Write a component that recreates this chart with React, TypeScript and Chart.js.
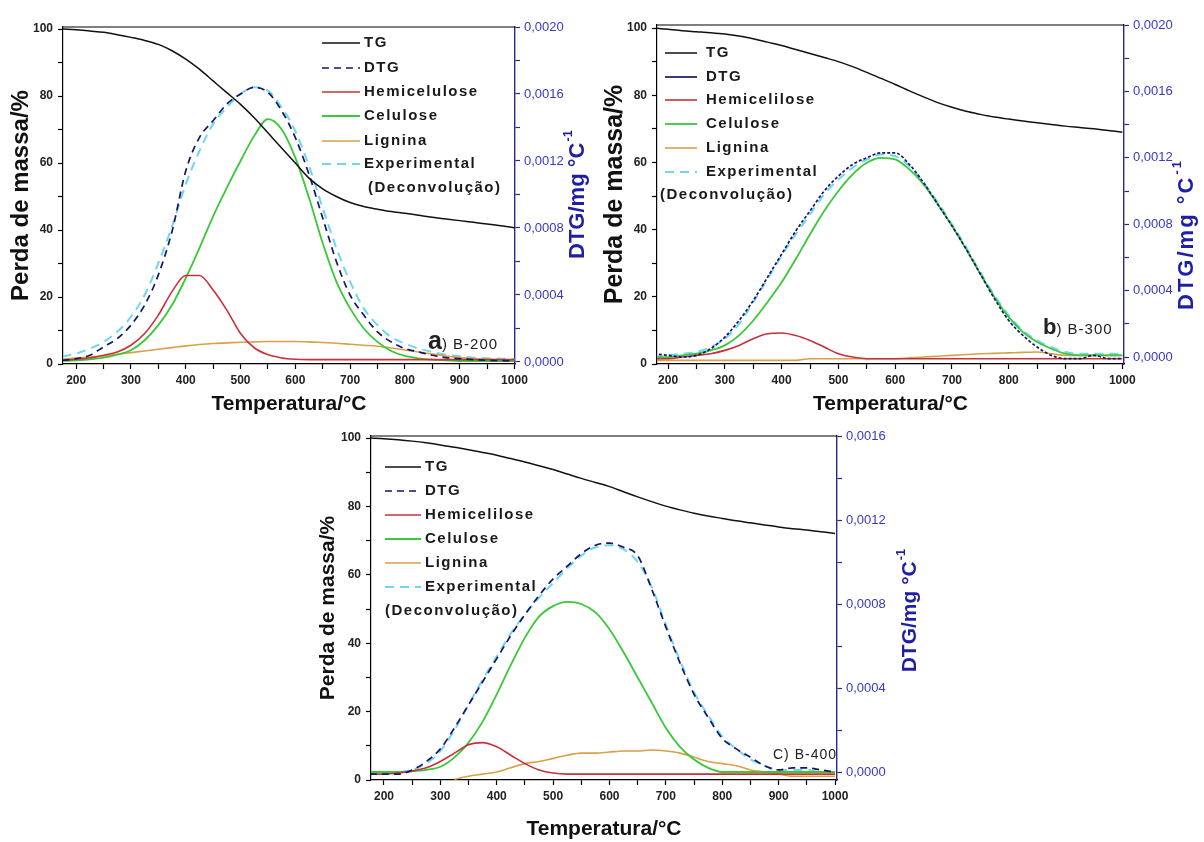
import React, { useEffect, useRef } from 'react';
import { Chart, registerables } from 'chart.js';

Chart.register(...registerables);

const FONT = '"Liberation Sans", Arial, Helvetica, sans-serif';

// ---------- shared axes ----------
const temperature = [175, 200, 225, 250, 275, 300, 325, 350, 375, 400, 425, 450, 475, 500, 525, 550, 575, 600, 625, 650, 675, 700, 725, 750, 775, 800, 825, 850, 875, 900, 925, 950, 975, 1000];
const xTickValues = [200, 250, 300, 350, 400, 450, 500, 550, 600, 650, 700, 750, 800, 850, 900, 950, 1000];
const xTickLabels = [200, 300, 400, 500, 600, 700, 800, 900, 1000];
const massTickValues = [0, 10, 20, 30, 40, 50, 60, 70, 80, 90, 100];
const massTickLabels = [0, 20, 40, 60, 80, 100];
const dtgTickValues20 = [0, 0.0002, 0.0004, 0.0006, 0.0008, 0.001, 0.0012, 0.0014, 0.0016, 0.0018, 0.002];
const dtgTickValues16 = [0, 0.0002, 0.0004, 0.0006, 0.0008, 0.001, 0.0012, 0.0014, 0.0016];
const dtgTickLabels = [0, 0.0004, 0.0008, 0.0012, 0.0016, 0.002];

// ---------- a) B-200 ----------
const tgB200 = [100, 99.8, 99.4, 99, 98.3, 97.5, 96.6, 95.4, 93.5, 91, 88, 84.5, 81, 77.5, 73.5, 69, 64.5, 60, 55.5, 52.3, 50, 48.2, 47, 46.2, 45.5, 45, 44.4, 43.8, 43.3, 42.8, 42.3, 41.8, 41.3, 40.7];
const dtgB200 = [0.00001, 0.00002, 0.00004, 0.00009, 0.00014, 0.00022, 0.00034, 0.00052, 0.00078, 0.00114, 0.00134, 0.00144, 0.00154, 0.0016, 0.00164, 0.00161, 0.0015, 0.00134, 0.00112, 0.00086, 0.0006, 0.0004, 0.00028, 0.00018, 0.00012, 0.00008, 0.00006, 0.00004, 0.000026, 0.00002, 0.000014, 0.00001, 0.000008, 0.000006];
const hemiB200 = [0.00001, 0.000016, 0.000024, 0.00004, 0.00006, 0.0001, 0.00017, 0.00028, 0.00042, 0.000516, 0.000516, 0.00043, 0.00031, 0.00017, 0.000085, 0.000044, 0.000024, 0.000016, 0.000014, 0.000014, 0.000014, 0.000014, 0.000014, 0.000014, 0.000014, 0.000014, 0.000014, 0.000014, 0.000014, 0.000014, 0.000014, 0.000014, 0.000014, 0.000014];
const celB200 = [0.000006, 0.00001, 0.000016, 0.000026, 0.000044, 0.00007, 0.00013, 0.00022, 0.00034, 0.0005, 0.00068, 0.00087, 0.00104, 0.0012, 0.00135, 0.00145, 0.00139, 0.00122, 0.00098, 0.00071, 0.00048, 0.00032, 0.0002, 0.00012, 0.000066, 0.000036, 0.000022, 0.000014, 0.00001, 0.000006, 0.000006, 0.000006, 0.000006, 0.000006];
const ligB200 = [0.000016, 0.000024, 0.00003, 0.000036, 0.000046, 0.000056, 0.000066, 0.000076, 0.000086, 0.000096, 0.000104, 0.00011, 0.000114, 0.000118, 0.00012, 0.000122, 0.000122, 0.000122, 0.00012, 0.000116, 0.000112, 0.000106, 0.0001, 0.000094, 0.000084, 0.000072, 0.00006, 0.000048, 0.000036, 0.000026, 0.00002, 0.000016, 0.000014, 0.000012];
const expB200 = [0.000032, 0.00005, 0.00008, 0.00012, 0.00018, 0.00027, 0.0004, 0.00059, 0.00081, 0.00106, 0.00126, 0.00142, 0.00152, 0.0016, 0.00164, 0.00162, 0.00152, 0.00138, 0.00117, 0.00092, 0.00068, 0.00048, 0.00032, 0.00022, 0.00015, 0.00011, 0.00008, 0.00006, 0.000044, 0.000034, 0.000026, 0.000022, 0.00002, 0.000018];

// ---------- b) B-300 ----------
const tgB300 = [100, 99.6, 99.2, 98.9, 98.6, 98.2, 97.6, 96.8, 95.8, 94.8, 93.6, 92.4, 91.2, 90, 88.5, 86.8, 85, 83.2, 81.3, 79.5, 77.8, 76.4, 75.2, 74.3, 73.5, 72.9, 72.3, 71.8, 71.3, 70.8, 70.4, 70, 69.5, 69];
const dtgB300 = [0.00002, 0.00001, 0, 0.00001, 0.00005, 0.00012, 0.00022, 0.00034, 0.00048, 0.00062, 0.00076, 0.00088, 0.001, 0.00109, 0.00116, 0.0012, 0.00123, 0.00123, 0.00116, 0.00105, 0.00092, 0.00079, 0.00065, 0.0005, 0.00035, 0.00022, 0.00013, 0.00006, 0.00001, -0.00001, -0.00001, 0.00001, -0.00001, -0.00001];
const hemiB300 = [-0.00001, -0.00001, 0, 0.00001, 0.00002, 0.00004, 0.00007, 0.00011, 0.00014, 0.000145, 0.00013, 0.0001, 0.00006, 0.00002, 0, -0.00001, -0.00001, -0.00001, -0.00001, -0.00001, -0.00001, -0.00001, -0.00001, -0.00001, -0.00001, -0.00001, -0.00001, -0.00001, -0.00001, -0.00001, -0.00001, -0.00001, -0.00001, -0.00001];
const celB300 = [0, 0, 0.00001, 0.00002, 0.00004, 0.00007, 0.00013, 0.00022, 0.00033, 0.00045, 0.00059, 0.00074, 0.00088, 0.001, 0.0011, 0.00117, 0.0012, 0.00119, 0.00113, 0.00104, 0.00092, 0.00079, 0.00065, 0.0005, 0.00036, 0.00024, 0.00015, 0.00009, 0.00005, 0.00002, 0.00001, 0.00001, 0.00001, 0.00001];
const ligB300 = [-0.00002, -0.00002, -0.00002, -0.00002, -0.00002, -0.00002, -0.00002, -0.00002, -0.00002, -0.00002, -0.00002, -0.00001, -0.00001, -0.00001, -0.00001, -0.00001, -0.00001, -0.00001, -0.000005, 0, 0.000005, 0.00001, 0.000015, 0.00002, 0.000022, 0.000025, 0.000028, 0.00003, 0.00002, 0.00001, 0.00001, 0.00001, 0.00001, 0.00001];
const expB300 = [0, 0.00001, 0.00002, 0.00003, 0.00006, 0.00011, 0.0002, 0.00033, 0.00047, 0.00061, 0.00074, 0.00086, 0.00098, 0.00107, 0.00114, 0.00119, 0.00122, 0.00121, 0.00115, 0.00105, 0.00093, 0.0008, 0.00066, 0.00051, 0.00037, 0.00025, 0.00016, 0.0001, 0.00006, 0.00003, 0.00002, 0.00002, 0.00002, 0.00002];

// ---------- C) B-400 ----------
const tgB400 = [100, 99.8, 99.5, 99.1, 98.6, 98, 97.3, 96.6, 95.8, 95, 94, 93, 91.9, 90.8, 89.5, 88.2, 87, 85.8, 84.3, 82.8, 81.4, 80.1, 79, 78, 77.2, 76.5, 75.8, 75.2, 74.6, 74, 73.5, 73.1, 72.6, 72.1];
const dtgB400 = [-0.00001, -0.00001, -0.00001, 0.00001, 0.00005, 0.00011, 0.00021, 0.00032, 0.00043, 0.00054, 0.00065, 0.00075, 0.00084, 0.00092, 0.00098, 0.00104, 0.00108, 0.00109, 0.00107, 0.00103, 0.00087, 0.00069, 0.00052, 0.00037, 0.00026, 0.00016, 0.00011, 0.00007, 0.00003, 0.00001, 0.00002, 0.00002, 0.00001, 0];
const hemiB400 = [-0.00001, -0.00001, -0.000005, 0.000005, 0.00002, 0.00005, 0.00009, 0.00013, 0.00014, 0.00012, 0.00008, 0.00004, 0.00001, -0.000005, -0.00001, -0.00001, -0.00001, -0.00001, -0.00001, -0.00001, -0.00001, -0.00001, -0.00001, -0.00001, -0.00001, -0.00001, -0.00001, -0.00001, -0.00001, -0.00001, -0.00001, -0.00001, -0.00001, -0.00001];
const celB400 = [0, 0, 0, 0.000003, 0.00001, 0.000025, 0.00007, 0.00014, 0.00024, 0.00037, 0.00051, 0.00064, 0.00074, 0.00079, 0.00081, 0.0008, 0.00076, 0.00068, 0.00057, 0.00045, 0.00033, 0.00021, 0.00012, 0.00006, 0.00002, 0, 0, 0, 0, 0, 0, 0, 0, 0];
const ligB400 = [null, null, null, null, null, null, -0.000035, -0.00002, -0.00001, 0, 0.00002, 0.00004, 0.00005, 0.000065, 0.00008, 0.00009, 0.00009, 0.000095, 0.0001, 0.0001, 0.000105, 0.0001, 0.00009, 0.00007, 0.00005, 0.00004, 0.00003, 0.00001, 0, -0.00001, -0.00002, -0.00002, -0.00002, -0.00002];
const expB400 = [0, 0, 0, 0.00001, 0.00004, 0.0001, 0.0002, 0.00032, 0.00044, 0.00055, 0.00066, 0.00075, 0.00083, 0.0009, 0.00097, 0.00103, 0.00107, 0.00108, 0.00106, 0.001, 0.00088, 0.0007, 0.00053, 0.00038, 0.00027, 0.00017, 0.00011, 0.00006, 0.00003, 0.00001, 0.00001, 0.00001, 0, 0];

const COLORS = {
  tg: '#111111',
  dtg: '#16166a',
  hemi: '#c8303a',
  cel: '#38c838',
  lig: '#d8a048',
  exp: '#6fd6ee',
  dtgAxis: '#2a2a7e',
  dtgLabel: '#3838c4',
  dtgTitle: '#1e1ea6',
};

type PanelCfg = {
  tg: number[]; dtg: number[]; hemi: number[]; cel: number[]; lig: (number | null)[]; exp: number[];
  hemiLabel: string;
  dtgDash: number[]; dtgLegendDash: number[];
  xMin: number; xMax: number; yMax: number; rMin: number; rMax: number; rTicks: number[];
  rightW: number; bottomH: number; topPad: number;
  leftTitleSize: number; leftTitlePad: number; xTitlePad: number;
  legend: { s0: number; s1: number; tx: number; rows: number[]; decX: number; decY: number };
  note: { x: number; y: number; big: string; bigSize: number; rest: string; restSize: number };
  rTitle: { x: number; y: number; size: number; spacing: number };
};

function fmtDtg(v: number) {
  return v.toFixed(4).replace('.', ',');
}

function buildConfig(c: PanelCfg): any {
  const mk = (label: string, data: (number | null)[], color: string, width: number, dash: number[], axis: string) => ({
    label,
    data: temperature.map((t, i) => ({ x: t, y: data[i] })),
    borderColor: color,
    backgroundColor: color,
    borderWidth: width,
    borderDash: dash,
    pointRadius: 0,
    cubicInterpolationMode: 'monotone',
    fill: false,
    spanGaps: false,
    yAxisID: axis,
  });
  const datasets = [
    mk('TG', c.tg, COLORS.tg, 1.5, [], 'y'),
    mk('DTG', c.dtg, COLORS.dtg, 1.7, c.dtgDash, 'y1'),
    mk(c.hemiLabel, c.hemi, COLORS.hemi, 1.6, [], 'y1'),
    mk('Celulose', c.cel, COLORS.cel, 1.8, [], 'y1'),
    mk('Lignina', c.lig, COLORS.lig, 1.6, [], 'y1'),
    mk('Experimental (Deconvolução)', c.exp, COLORS.exp, 2, [9, 6], 'y1'),
  ];
  const legendDashes = [[], c.dtgLegendDash, [], [], [], [9, 6]];

  const decor = {
    id: 'decor',
    afterDraw(chart: any) {
      const { ctx, chartArea: a } = chart;
      ctx.save();
      // top frame
      ctx.strokeStyle = '#000';
      ctx.lineWidth = 1.2;
      ctx.setLineDash([]);
      ctx.beginPath();
      ctx.moveTo(a.left, a.top);
      ctx.lineTo(a.right, a.top);
      ctx.stroke();

      // legend
      const L = c.legend;
      chart.data.datasets.forEach((ds: any, i: number) => {
        const y = L.rows[i];
        ctx.strokeStyle = ds.borderColor;
        ctx.lineWidth = ds.borderWidth;
        ctx.setLineDash(legendDashes[i]);
        ctx.beginPath();
        ctx.moveTo(L.s0, y);
        ctx.lineTo(L.s1, y);
        ctx.stroke();
        ctx.setLineDash([]);
        ctx.font = `bold 15px ${FONT}`;
        (ctx as any).letterSpacing = '1.5px';
        ctx.fillStyle = '#1a1a1a';
        ctx.textBaseline = 'middle';
        ctx.textAlign = 'left';
        const parts = String(ds.label).split(' (');
        ctx.fillText(parts[0], L.tx, y);
        if (parts.length > 1) ctx.fillText('(' + parts[1], L.decX, L.decY);
      });

      // panel note
      const N = c.note;
      ctx.fillStyle = '#222';
      ctx.textBaseline = 'alphabetic';
      let nx = N.x;
      if (N.big) {
        ctx.font = `bold ${N.bigSize}px ${FONT}`;
        (ctx as any).letterSpacing = '0px';
        ctx.fillText(N.big, nx, N.y);
        nx += ctx.measureText(N.big).width;
      }
      ctx.font = `${N.restSize}px ${FONT}`;
      (ctx as any).letterSpacing = '1px';
      ctx.fillText(N.rest, nx, N.y);

      // right axis title (reads bottom to top)
      const R = c.rTitle;
      ctx.translate(R.x, R.y);
      ctx.rotate(-Math.PI / 2);
      (ctx as any).letterSpacing = R.spacing + 'px';
      const mainFont = `bold ${R.size}px ${FONT}`;
      const supFont = `bold ${Math.round(R.size * 0.6)}px ${FONT}`;
      ctx.font = mainFont;
      const w1 = ctx.measureText('DTG/mg °C').width;
      ctx.font = supFont;
      const w2 = ctx.measureText('-1').width;
      const start = -(w1 + w2) / 2;
      ctx.fillStyle = COLORS.dtgTitle;
      ctx.textBaseline = 'middle';
      ctx.font = mainFont;
      ctx.fillText('DTG/mg °C', start, 0);
      ctx.font = supFont;
      ctx.fillText('-1', start + w1 + 1, -R.size * 0.42);
      ctx.restore();
    },
  };

  return {
    type: 'line',
    data: { datasets },
    plugins: [decor],
    options: {
      animation: false,
      responsive: false,
      events: [],
      layout: { padding: { top: c.topPad, left: 0, right: 0, bottom: 0 } },
      plugins: { legend: { display: false }, tooltip: { enabled: false } },
      scales: {
        x: {
          type: 'linear',
          min: c.xMin,
          max: c.xMax,
          afterBuildTicks: (s: any) => { s.ticks = xTickValues.map((v) => ({ value: v })); },
          afterFit: (s: any) => { s.height = c.bottomH; },
          ticks: {
            autoSkip: false, maxRotation: 0, padding: 4,
            color: '#222', font: { family: FONT, size: 12, weight: 'bold' },
            callback: (v: number) => (xTickLabels.includes(v) ? String(v) : ''),
          },
          grid: { drawOnChartArea: false, drawTicks: true, tickLength: 5, tickColor: '#000', tickWidth: 1.2 },
          border: { display: true, color: '#000', width: 1.2 },
          title: {
            display: true, text: 'Temperatura/°C', color: '#111',
            font: { family: FONT, size: 21, weight: 'bold' },
            padding: { top: 0, bottom: c.xTitlePad },
          },
        },
        y: {
          type: 'linear',
          position: 'left',
          min: 0,
          max: c.yMax,
          afterBuildTicks: (s: any) => { s.ticks = massTickValues.map((v) => ({ value: v })); },
          afterFit: (s: any) => { s.width = 63; },
          ticks: {
            autoSkip: false, padding: 5,
            color: '#222', font: { family: FONT, size: 12, weight: 'bold' },
            callback: (v: number) => (massTickLabels.includes(v) ? String(v) : ''),
          },
          grid: { drawOnChartArea: false, drawTicks: true, tickLength: 5, tickColor: '#000', tickWidth: 1.2 },
          border: { display: true, color: '#000', width: 1.2 },
          title: {
            display: true, text: 'Perda de massa/%', color: '#111',
            font: { family: FONT, size: c.leftTitleSize, weight: 'bold' },
            padding: { top: c.leftTitlePad, bottom: 0 },
          },
        },
        y1: {
          type: 'linear',
          position: 'right',
          min: c.rMin,
          max: c.rMax,
          afterBuildTicks: (s: any) => { s.ticks = c.rTicks.map((v) => ({ value: v })); },
          afterFit: (s: any) => { s.width = c.rightW; },
          ticks: {
            autoSkip: false, padding: 4,
            color: COLORS.dtgLabel, font: { family: FONT, size: 13 },
            callback: (v: number) => (dtgTickLabels.includes(v) ? fmtDtg(v) : ''),
          },
          grid: { drawOnChartArea: false, drawTicks: true, tickLength: 5, tickColor: COLORS.dtgAxis, tickWidth: 1.2 },
          border: { display: true, color: COLORS.dtgAxis, width: 1.4 },
        },
      },
    },
  };
}

const panelA: PanelCfg = {
  tg: tgB200, dtg: dtgB200, hemi: hemiB200, cel: celB200, lig: ligB200, exp: expB200,
  hemiLabel: 'Hemicelulose', dtgDash: [7, 5], dtgLegendDash: [7, 5],
  xMin: 176, xMax: 1001, yMax: 100.6, rMin: -0.000012, rMax: 0.002, rTicks: dtgTickValues20,
  rightW: 79, bottomH: 56, topPad: 27,
  leftTitleSize: 24, leftTitlePad: 7, xTitlePad: 3,
  legend: { s0: 322, s1: 360, tx: 364, rows: [43, 68, 92, 116, 141, 164], decX: 368, decY: 188 },
  note: { x: 428, y: 349, big: 'a', bigSize: 25, rest: ') B-200', restSize: 15 },
  rTitle: { x: 578, y: 195, size: 22, spacing: 0 },
};

const panelB: PanelCfg = {
  tg: tgB300, dtg: dtgB300, hemi: hemiB300, cel: celB300, lig: ligB300, exp: expB300,
  hemiLabel: 'Hemicelilose', dtgDash: [3, 2], dtgLegendDash: [],
  xMin: 180.5, xMax: 1003, yMax: 100.9, rMin: -0.000042, rMax: 0.002, rTicks: dtgTickValues20,
  rightW: 80, bottomH: 56, topPad: 25,
  leftTitleSize: 25, leftTitlePad: 6, xTitlePad: 3,
  legend: { s0: 71, s1: 103, tx: 112, rows: [53, 77, 100, 124, 148, 172], decX: 66, decY: 195 },
  note: { x: 449, y: 334, big: 'b', bigSize: 22, rest: ') B-300', restSize: 15 },
  rTitle: { x: 593, y: 235, size: 22, spacing: 2 },
};

const panelC: PanelCfg = {
  tg: tgB400, dtg: dtgB400, hemi: hemiB400, cel: celB400, lig: ligB400, exp: expB400,
  hemiLabel: 'Hemicelilose', dtgDash: [7, 5], dtgLegendDash: [7, 5],
  xMin: 177, xMax: 1003.5, yMax: 100.6, rMin: -0.000038, rMax: 0.0016, rTicks: dtgTickValues16,
  rightW: 103, bottomH: 62, topPad: 16,
  leftTitleSize: 21, leftTitlePad: 8, xTitlePad: 0,
  legend: { s0: 77, s1: 113, tx: 117, rows: [47, 71, 95, 119, 143, 167], decX: 77, decY: 191 },
  note: { x: 465, y: 339, big: '', bigSize: 15, rest: 'C) B-400', restSize: 14 },
  rTitle: { x: 602, y: 191, size: 21, spacing: 0 },
};

function Panel({ cfg, left, top, width, height }: { cfg: PanelCfg; left: number; top: number; width: number; height: number }) {
  const ref = useRef<HTMLCanvasElement | null>(null);
  useEffect(() => {
    const chart = new Chart(ref.current as HTMLCanvasElement, buildConfig(cfg));
    return () => chart.destroy();
  }, [cfg]);
  return (
    <canvas
      ref={ref}
      width={width}
      height={height}
      style={{ position: 'absolute', left, top, width, height, display: 'block' }}
    />
  );
}

export default function App() {
  return (
    <div style={{ position: 'absolute', left: 0, top: 0, width: 1204, height: 842, background: '#ffffff', overflow: 'hidden' }}>
      <Panel cfg={panelA} left={0} top={0} width={594} height={420} />
      <Panel cfg={panelB} left={594} top={0} width={610} height={420} />
      <Panel cfg={panelC} left={308} top={420} width={632} height={422} />
    </div>
  );
}
